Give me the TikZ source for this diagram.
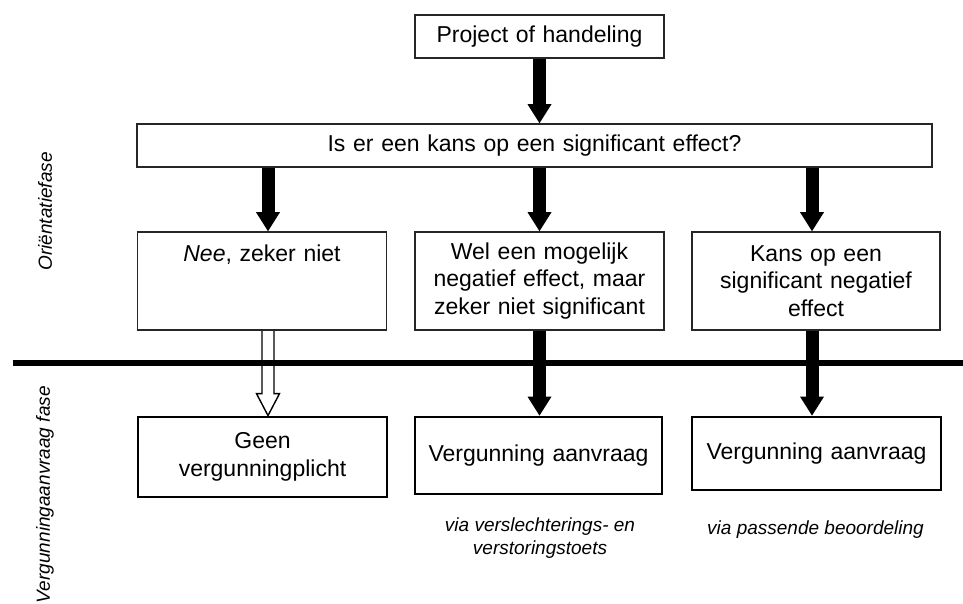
\documentclass[tikz,border=0pt]{standalone}
\usepackage{fontspec}
\setmainfont{Liberation Sans}
\usetikzlibrary{arrows.meta,calc}

\begin{document}
\begin{tikzpicture}[x=1pt, y=-1pt,
    every node/.style={inner sep=0pt, align=center, font=\fontsize{23}{27.5}\selectfont},
    kader/.style={draw=black!85, line width=1.6pt, text width=249pt, minimum height=#1},
    kaderdik/.style={draw=black, line width=2.8pt, text width=249pt, minimum height=#1},
    pijl/.style={line width=13pt, -{Triangle[width=24pt, length=19pt, line width=0pt]}},
    notitie/.style={font=\fontsize{19}{23}\selectfont\itshape},
    fase/.style={rotate=90, anchor=east, font=\fontsize{19}{23}\selectfont\itshape}]
    \useasboundingbox (0,0) rectangle (963,603);

    \node[kader=43pt] (project) at (539.5,36.5) {Project of handeling};
    \node[kader=43pt, text width=795pt] (vraag) at (534.5,145.5) {Is er een kans op een significant effect?};

    \node[kader=98pt] (nee) at (262,281) {\textit{Nee}, zeker niet\\ \mbox{}\\ \mbox{}};
    \node[kader=98pt] (wel) at (539.5,281) {Wel een mogelijk\\ negatief effect, maar\\ zeker niet significant};
    \node[kader=98pt, text width=248pt] (kans) at (816,281) {Kans op een\\ significant negatief\\ effect};

    \node[kaderdik=80pt] (geen) at (262.5,457) {Geen\\ vergunningplicht};
    \node[kaderdik=77pt, text width=247pt] (aanvraag1) at (538.5,455.5) {Vergunning aanvraag};
    \node[kaderdik=73pt] (aanvraag2) at (816.5,453.5) {Vergunning aanvraag};

    \node[notitie] (toets) at (540,538) {via verslechterings- en\\ verstoringstoets};
    \node[notitie] (beoordeling) at (815.5,530) {via passende beoordeling};

    \node[fase] (orientatie) at (45,152) {Oriëntatiefase};
    \node[fase] (vergunning) at (45,386) {Vergunningaanvraag fase};

    \coordinate (a1) at ([xshift=6pt]nee.north);
    \coordinate (a3) at ([xshift=-4pt]kans.north);

    \draw[pijl] (project.south) -- (project.south |- vraag.north);
    \draw[pijl] (a1 |- vraag.south) -- (a1);
    \draw[pijl] (wel.north |- vraag.south) -- (wel.north);
    \draw[pijl] (a3 |- vraag.south) -- (a3);

    \draw[pijl] (wel.south) -- (wel.south |- aanvraag1.north);
    \draw[pijl] (a3 |- kans.south) -- (a3 |- aanvraag2.north);

    % open pijl naar geen vergunningplicht
    \coordinate (b0) at (a1 |- nee.south);
    \coordinate (b1) at (a1 |- geen.north);
    \draw[line width=1.4pt, line join=miter]
        ($(b0)+(-6,0)$) -- ($(b1)+(-6,-22)$) -- ($(b1)+(-11.5,-22)$) -- (b1)
        -- ($(b1)+(11.5,-22)$) -- ($(b1)+(6,-22)$) -- ($(b0)+(6,0)$);

    \draw[line width=6pt] (12.7,363) -- (963,363);
\end{tikzpicture}
\end{document}
